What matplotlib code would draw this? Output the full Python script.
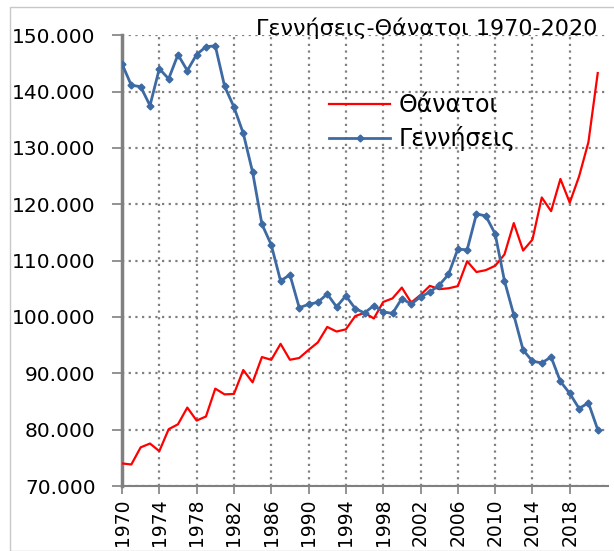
import matplotlib
matplotlib.use("Agg")
import matplotlib.pyplot as plt
from matplotlib.patches import Rectangle

years = list(range(1970, 2022))
deaths = [74009, 73819, 76859, 77538, 76189, 80077, 80955, 83920, 81615, 82338,
          87282, 86261, 86345, 90586, 88397, 92886, 92399, 95232, 92407, 92720,
          94152, 95498, 98231, 97419, 97807, 100158, 100740, 99738, 102668, 103304,
          105219, 102559, 103915, 105529, 104942, 105091, 105476, 109895, 107979, 108316,
          109084, 111099, 116668, 111794, 113740, 121212, 118788, 124501, 120291, 124954,
          131025, 143300]
births = [144928, 141126, 140891, 137526, 144069, 142273, 146566, 143739, 146588, 147965,
          148134, 140953, 137275, 132608, 125724, 116481, 112810, 106392, 107505, 101657,
          102229, 102620, 104081, 101799, 103763, 101495, 100718, 102038, 100894, 100643,
          103274, 102282, 103569, 104420, 105655, 107545, 112042, 111926, 118302, 117933,
          114766, 106428, 100371, 94134, 92149, 91847, 92898, 88553, 86440, 83756,
          84767, 80000]
xticks = list(range(1970, 2019, 4))
yticks = list(range(70000, 150001, 10000))
title = "Γεννήσεις-Θάνατοι 1970-2020"
lbl_deaths = "Θάνατοι"
lbl_births = "Γεννήσεις"

W, H = 614, 551
fig = plt.figure(figsize=(W / 100, H / 100), dpi=100)
fig.patch.set_facecolor("white")
fig.patches.append(Rectangle((10 / W, 0), 1, 1 - 7 / H, transform=fig.transFigure,
                             fill=False, edgecolor="#c8c8c8", linewidth=1.0))

ax = fig.add_axes([122 / W, 1 - 486 / H, (608 - 122) / W, (486 - 35.3) / H])
ax.plot(years, deaths, color="#ff0000", linewidth=1.6, label=lbl_deaths, zorder=3)
ax.plot(years, births, color="#3d6aa3", linewidth=2.0, marker="D", markersize=3.5,
        markeredgecolor="#3d6aa3", markerfacecolor="#3d6aa3", label=lbl_births, zorder=4)

ax.set_xlim(1970, 2022.1)
ax.set_ylim(70000, 150000)
ax.set_xticks(xticks)
ax.set_xticklabels([str(y) for y in xticks], rotation=90, fontsize=13.5, family="DejaVu Sans")
ax.set_yticks(yticks)
ax.set_yticklabels([f"{v:,}".replace(",", ".") for v in yticks], fontsize=14.5, family="DejaVu Sans")
ax.tick_params(axis="y", length=7, width=1.2, color="#808080", pad=12)
ax.tick_params(axis="x", length=6, width=1.2, color="#808080", pad=3)

ax.grid(True, color="#808080", linestyle=(0, (1, 2)), linewidth=1.6)
ax.set_axisbelow(True)
for s in ["top", "right"]:
    ax.spines[s].set_visible(False)
ax.spines["left"].set_color("#808080")
ax.spines["left"].set_linewidth(2.5)
ax.spines["bottom"].set_color("#808080")
ax.spines["bottom"].set_linewidth(1.5)

fig.text(597 / W, 1 - 28 / H, title, ha="right", va="center", fontsize=16, family="DejaVu Sans")

ax.legend(loc="upper left", bbox_to_anchor=(329 / W, 1 - 93 / H), bbox_transform=fig.transFigure,
          frameon=False, handlelength=2.6, handletextpad=0.35, borderpad=0,
          borderaxespad=0, labelspacing=0.40, prop={"family": "DejaVu Sans", "size": 17})

fig.savefig("out.png", dpi=100)
